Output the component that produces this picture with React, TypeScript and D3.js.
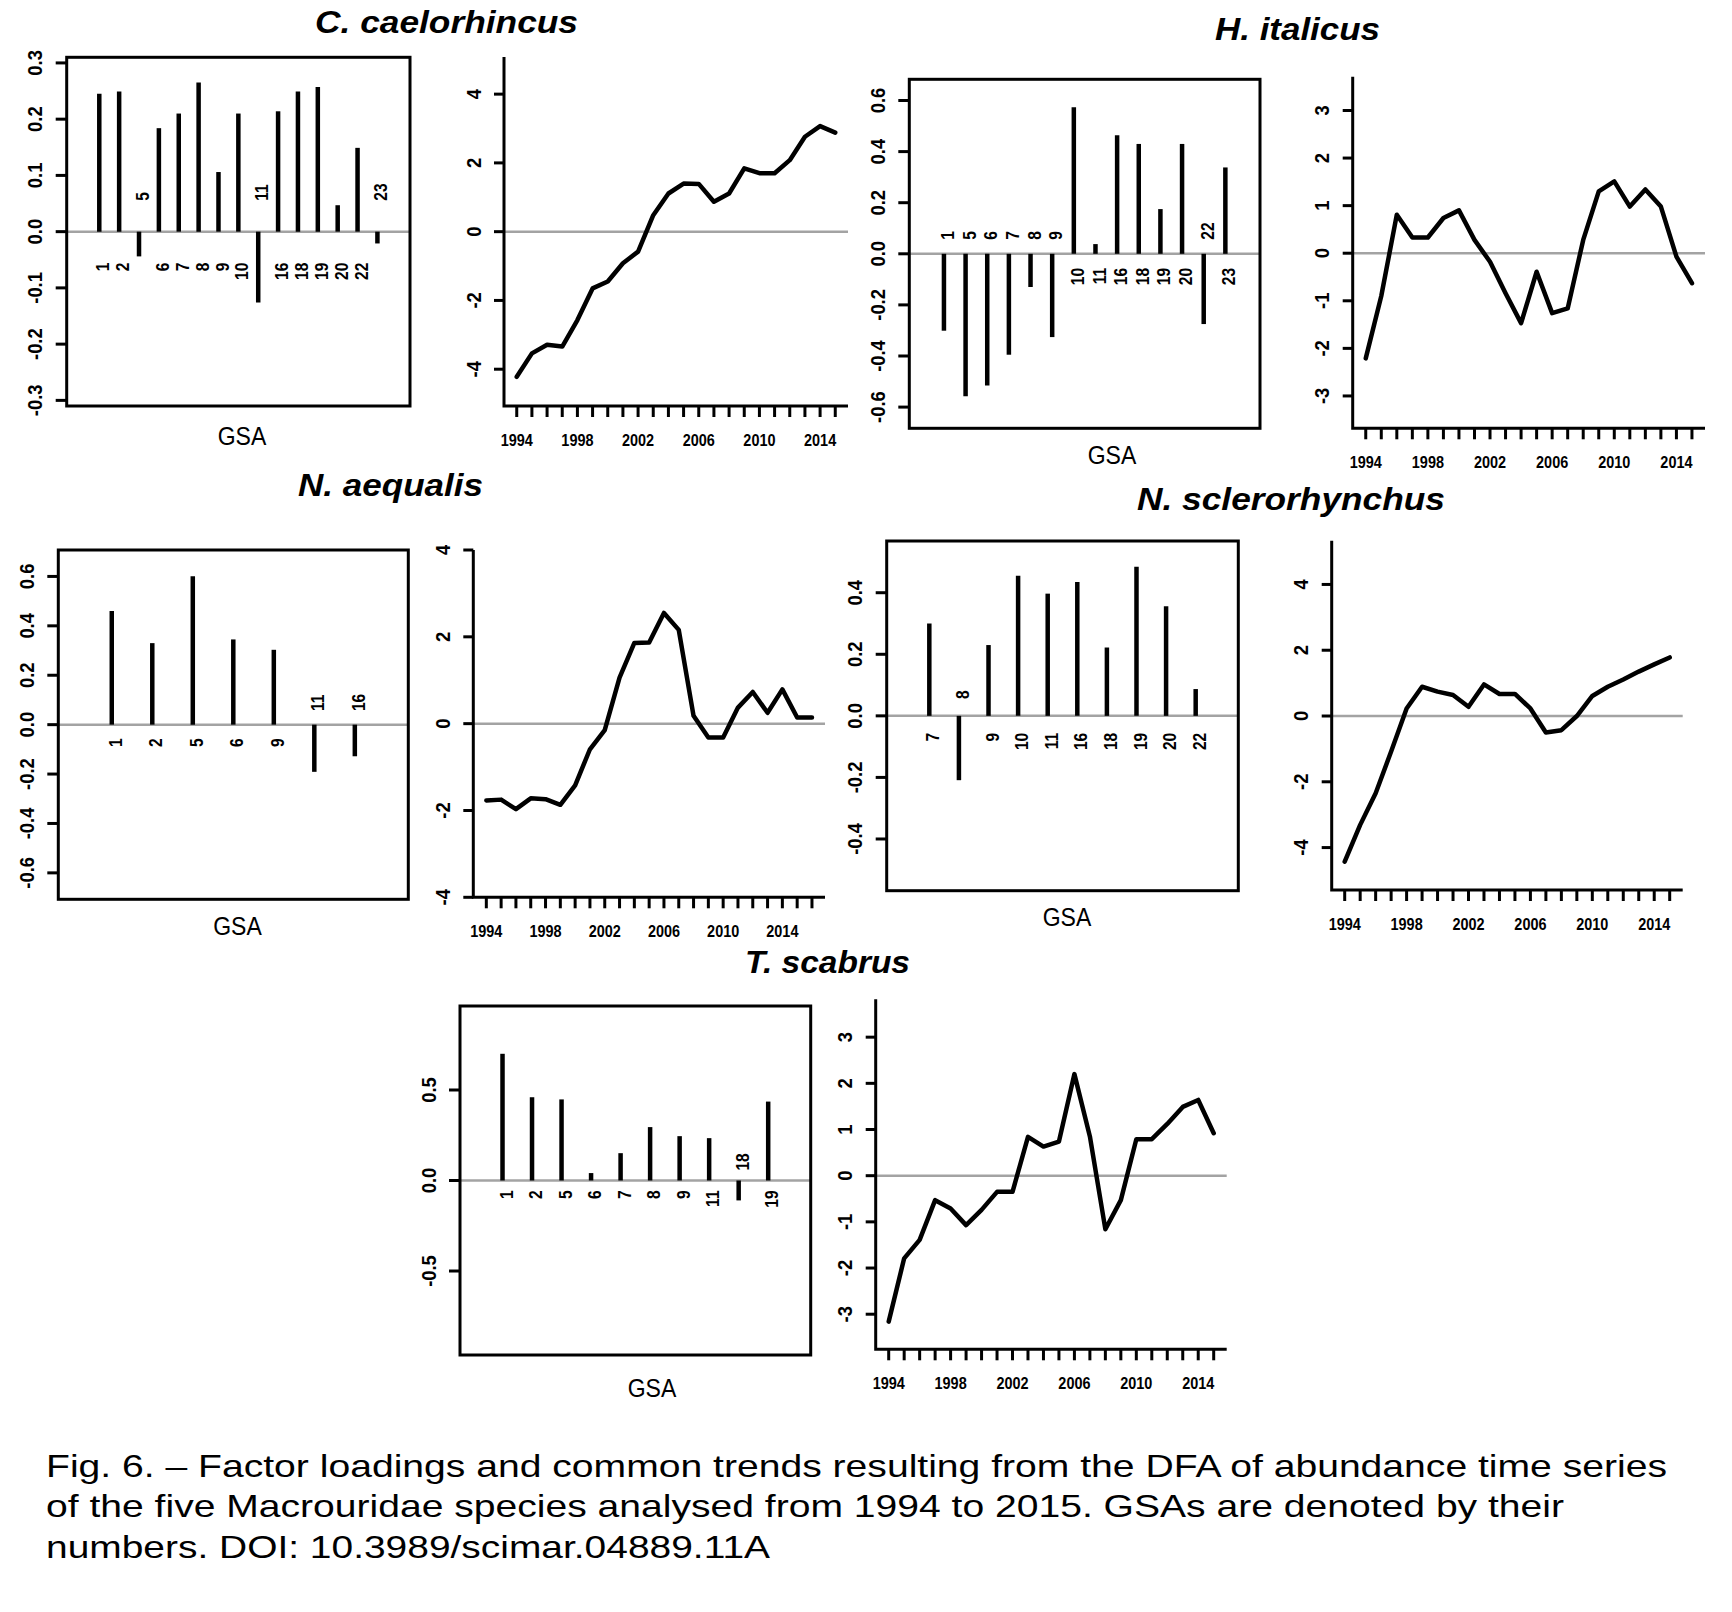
import React from "react";
import * as d3 from "d3";

// ---------- DATA ----------
const TITLES = ["C. caelorhincus", "H. italicus", "N. aequalis", "N. sclerorhynchus", "T. scabrus"];

const YEARS_A = [1994, 1995, 1996, 1997, 1998, 1999, 2000, 2001, 2002, 2003, 2004, 2005, 2006, 2007, 2008, 2009, 2010, 2011, 2012, 2013, 2014, 2015];
const YEARS_B = [1994, 1995, 1996, 1997, 1998, 1999, 2000, 2001, 2002, 2003, 2004, 2005, 2006, 2007, 2008, 2009, 2010, 2011, 2012, 2013, 2014, 2015, 2016];
const YEAR_LABELS = [1994, 1998, 2002, 2006, 2010, 2014];

// C. caelorhincus
const CAE_GSA = ["1", "2", "5", "6", "7", "8", "9", "10", "11", "16", "18", "19", "20", "22", "23"];
const CAE_LOAD = [0.245, 0.249, -0.044, 0.184, 0.21, 0.265, 0.106, 0.21, -0.126, 0.214, 0.249, 0.257, 0.047, 0.149, -0.021];
const CAE_LOAD_TICKS = [-0.3, -0.2, -0.1, 0, 0.1, 0.2, 0.3];
const CAE_TREND = [-4.22, -3.54, -3.29, -3.34, -2.57, -1.65, -1.45, -0.92, -0.58, 0.48, 1.11, 1.4, 1.39, 0.87, 1.11, 1.84, 1.7, 1.7, 2.08, 2.76, 3.07, 2.88];
const CAE_TREND_TICKS = [-4, -2, 0, 2, 4];

// H. italicus
const ITA_GSA = ["1", "5", "6", "7", "8", "9", "10", "11", "16", "18", "19", "20", "22", "23"];
const ITA_LOAD = [-0.301, -0.558, -0.515, -0.395, -0.13, -0.326, 0.574, 0.038, 0.464, 0.43, 0.175, 0.43, -0.275, 0.338];
const ITA_LOAD_TICKS = [-0.6, -0.4, -0.2, 0, 0.2, 0.4, 0.6];
const ITA_TREND = [-2.21, -0.9, 0.81, 0.33, 0.33, 0.74, 0.9, 0.28, -0.18, -0.84, -1.47, -0.39, -1.26, -1.16, 0.28, 1.3, 1.51, 0.98, 1.34, 0.98, -0.07, -0.63];
const ITA_TREND_TICKS = [-3, -2, -1, 0, 1, 2, 3];

// N. aequalis
const AEQ_GSA = ["1", "2", "5", "6", "9", "11", "16"];
const AEQ_LOAD = [0.46, 0.33, 0.601, 0.345, 0.303, -0.191, -0.128];
const AEQ_LOAD_TICKS = [-0.6, -0.4, -0.2, 0, 0.2, 0.4, 0.6];
const AEQ_TREND = [-1.77, -1.75, -1.97, -1.72, -1.74, -1.87, -1.42, -0.59, -0.15, 1.06, 1.86, 1.87, 2.55, 2.16, 0.18, -0.32, -0.32, 0.37, 0.73, 0.25, 0.79, 0.14, 0.14];
const AEQ_TREND_TICKS = [-4, -2, 0, 2, 4];

// N. sclerorhynchus
const SCL_GSA = ["7", "8", "9", "10", "11", "16", "18", "19", "20", "22"];
const SCL_LOAD = [0.3, -0.209, 0.23, 0.455, 0.397, 0.435, 0.222, 0.484, 0.356, 0.087];
const SCL_LOAD_TICKS = [-0.4, -0.2, 0, 0.2, 0.4];
const SCL_TREND = [-4.43, -3.31, -2.35, -1.08, 0.23, 0.89, 0.74, 0.64, 0.28, 0.96, 0.67, 0.67, 0.23, -0.5, -0.43, 0.0, 0.61, 0.89, 1.11, 1.35, 1.57, 1.78];
const SCL_TREND_TICKS = [-4, -2, 0, 2, 4];

// T. scabrus
const SCA_GSA = ["1", "2", "5", "6", "7", "8", "9", "11", "18", "19"];
const SCA_LOAD = [0.7, 0.46, 0.448, 0.041, 0.151, 0.295, 0.245, 0.234, -0.11, 0.436];
const SCA_LOAD_TICKS = [-0.5, 0, 0.5];
const SCA_TREND = [-3.16, -1.79, -1.39, -0.53, -0.71, -1.07, -0.74, -0.35, -0.35, 0.84, 0.63, 0.74, 2.2, 0.85, -1.16, -0.53, 0.79, 0.79, 1.12, 1.49, 1.64, 0.92];
const SCA_TREND_TICKS = [-3, -2, -1, 0, 1, 2, 3];

const CAPTION = [
  "Fig. 6. \u2013 Factor loadings and common trends resulting from the DFA of abundance time series",
  "of the five Macrouridae species analysed from 1994 to 2015. GSAs are denoted by their",
  "numbers. DOI: 10.3989/scimar.04889.11A",
];

// ---------- LAYOUT / STYLE ----------
const FONT = "'Liberation Sans', Arial, Helvetica, sans-serif";
const GREY = "#a3a3a3";

type LoadBox = { x0: number; x1: number; y0: number; y1: number; lo: number; hi: number; gsaX: number; gsaY: number };
type TrendBox = { x0: number; x1: number; y0: number; y1: number; lo: number; hi: number };

// text with rotation and horizontal (along-text) squeeze
function T({ x, y, rot = 0, sx = 1, size, weight = "bold", anchor = "middle", children }: any) {
  return (
    <text transform={`translate(${x},${y}) rotate(${rot}) scale(${sx},1)`} textAnchor={anchor}
      dominantBaseline="central" fontSize={size} fontWeight={weight} fontFamily={FONT}>{children}</text>
  );
}

function Loadings({ gsa, values, ticks, box }: { gsa: string[]; values: number[]; ticks: number[]; box: LoadBox }) {
  const n = gsa.length + 1;
  const x = d3.scaleLinear().domain([-0.04 * n, n * 1.04]).range([box.x0, box.x1]);
  const y = d3.scaleLinear().domain([box.lo, box.hi]).range([box.y1, box.y0]);
  const off = 0.055;
  return (
    <g>
      <line x1={box.x0} x2={box.x1} y1={y(0)} y2={y(0)} stroke={GREY} strokeWidth={2.5} />
      {values.map((v, i) => (
        <line key={"b" + i} x1={x(i + 1)} x2={x(i + 1)} y1={y(0)} y2={y(v)} stroke="#000" strokeWidth={4.5} />
      ))}
      {values.map((v, i) => (
        <T key={"l" + i} x={x(i + 1) + 3.5} y={v >= 0 ? y(-off) : y(off)} rot={-90} sx={0.82} size={19}
          anchor={v >= 0 ? "end" : "start"}>{gsa[i]}</T>
      ))}
      <rect x={box.x0} y={box.y0} width={box.x1 - box.x0} height={box.y1 - box.y0} fill="none" stroke="#000" strokeWidth={3} />
      {ticks.map((t) => (
        <g key={"t" + t}>
          <line x1={box.x0 - 11} x2={box.x0} y1={y(t)} y2={y(t)} stroke="#000" strokeWidth={3} />
          <T x={box.x0 - 31} y={y(t)} rot={-90} sx={0.92} size={20}>{t.toFixed(1)}</T>
        </g>
      ))}
      <T x={box.gsaX} y={box.gsaY} sx={0.92} size={25} weight="normal">GSA</T>
    </g>
  );
}

function Trend({ years, values, ticks, box }: { years: number[]; values: number[]; ticks: number[]; box: TrendBox }) {
  const a = years[0], b = years[years.length - 1];
  const pad = (b - a) * 0.04;
  const x = d3.scaleLinear().domain([a - pad, b + pad]).range([box.x0, box.x1]);
  const y = d3.scaleLinear().domain([box.lo, box.hi]).range([box.y1, box.y0]);
  const pts: [number, number][] = years.map((yr, i) => [yr, values[i]]);
  const path = d3.line<[number, number]>().x((d) => x(d[0])).y((d) => y(d[1]))(pts) || "";
  return (
    <g>
      <line x1={box.x0} x2={box.x1} y1={y(0)} y2={y(0)} stroke={GREY} strokeWidth={2.5} />
      <path d={path} fill="none" stroke="#000" strokeWidth={4.5} strokeLinejoin="round" strokeLinecap="round" />
      <path d={`M${box.x0},${box.y0}V${box.y1}H${box.x1}`} fill="none" stroke="#000" strokeWidth={3} />
      {ticks.map((t) => (
        <g key={"t" + t}>
          <line x1={box.x0 - 10} x2={box.x0} y1={y(t)} y2={y(t)} stroke="#000" strokeWidth={3} />
          <T x={box.x0 - 30} y={y(t)} rot={-90} sx={0.92} size={20}>{String(t)}</T>
        </g>
      ))}
      {years.map((yr) => (
        <line key={"x" + yr} x1={x(yr)} x2={x(yr)} y1={box.y1} y2={box.y1 + 11} stroke="#000" strokeWidth={3} />
      ))}
      {YEAR_LABELS.filter((yr) => yr <= b).map((yr) => (
        <T key={"xl" + yr} x={x(yr)} y={box.y1 + 34} sx={0.85} size={17}>{yr}</T>
      ))}
    </g>
  );
}

const TITLE_POS = [
  { x: 315, y: 33, w: 263 },
  { x: 1215, y: 40, w: 165 },
  { x: 298, y: 496, w: 185 },
  { x: 1137, y: 510, w: 308 },
  { x: 745, y: 973, w: 165 },
];

export default function App() {
  return (
    <div style={{ position: "absolute", left: 0, top: 0 }}>
      <svg width={1732} height={1612} viewBox="0 0 1732 1612" style={{ display: "block", background: "#fff" }}>
        <rect x={0} y={0} width={1732} height={1612} fill="#fff" />
        {TITLES.map((t, i) => (
          <text key={t} x={TITLE_POS[i].x} y={TITLE_POS[i].y} fontSize={31} fontWeight="bold" fontStyle="italic"
            fontFamily={FONT} textLength={TITLE_POS[i].w} lengthAdjust="spacingAndGlyphs">{t}</text>
        ))}

        <Loadings gsa={CAE_GSA} values={CAE_LOAD} ticks={CAE_LOAD_TICKS}
          box={{ x0: 66.7, x1: 410, y0: 57.3, y1: 406, lo: -0.31, hi: 0.31, gsaX: 242, gsaY: 436 }} />
        <Trend years={YEARS_A} values={CAE_TREND} ticks={CAE_TREND_TICKS}
          box={{ x0: 504, x1: 848, y0: 57, y1: 406, lo: -5.07, hi: 5.08 }} />

        <Loadings gsa={ITA_GSA} values={ITA_LOAD} ticks={ITA_LOAD_TICKS}
          box={{ x0: 909.3, x1: 1260, y0: 79.3, y1: 428.3, lo: -0.683, hi: 0.683, gsaX: 1112, gsaY: 455 }} />
        <Trend years={YEARS_A} values={ITA_TREND} ticks={ITA_TREND_TICKS}
          box={{ x0: 1352.7, x1: 1705, y0: 76.7, y1: 428.3, lo: -3.68, hi: 3.71 }} />

        <Loadings gsa={AEQ_GSA} values={AEQ_LOAD} ticks={AEQ_LOAD_TICKS}
          box={{ x0: 58.3, x1: 408.3, y0: 550, y1: 899.3, lo: -0.707, hi: 0.707, gsaX: 237.5, gsaY: 926 }} />
        <Trend years={YEARS_B} values={AEQ_TREND} ticks={AEQ_TREND_TICKS}
          box={{ x0: 473.3, x1: 825, y0: 550, y1: 897.3, lo: -4, hi: 4 }} />

        <Loadings gsa={SCL_GSA} values={SCL_LOAD} ticks={SCL_LOAD_TICKS}
          box={{ x0: 886.7, x1: 1238.3, y0: 541, y1: 890.7, lo: -0.568, hi: 0.568, gsaX: 1067, gsaY: 917.5 }} />
        <Trend years={YEARS_A} values={SCL_TREND} ticks={SCL_TREND_TICKS}
          box={{ x0: 1331.7, x1: 1682.7, y0: 540.7, y1: 890, lo: -5.29, hi: 5.33 }} />

        <Loadings gsa={SCA_GSA} values={SCA_LOAD} ticks={SCA_LOAD_TICKS}
          box={{ x0: 460, x1: 810.7, y0: 1006, y1: 1355, lo: -0.964, hi: 0.964, gsaX: 652, gsaY: 1388 }} />
        <Trend years={YEARS_A} values={SCA_TREND} ticks={SCA_TREND_TICKS}
          box={{ x0: 875.7, x1: 1226.7, y0: 999.3, y1: 1349.3, lo: -3.76, hi: 3.82 }} />

        {CAPTION.map((c, i) => (
          <text key={i} x={46} y={1476.7 + i * 40.7} fontSize={31.5} fontFamily={FONT}
            textLength={[1621, 1518, 724][i]} lengthAdjust="spacingAndGlyphs">{c}</text>
        ))}
      </svg>
    </div>
  );
}
